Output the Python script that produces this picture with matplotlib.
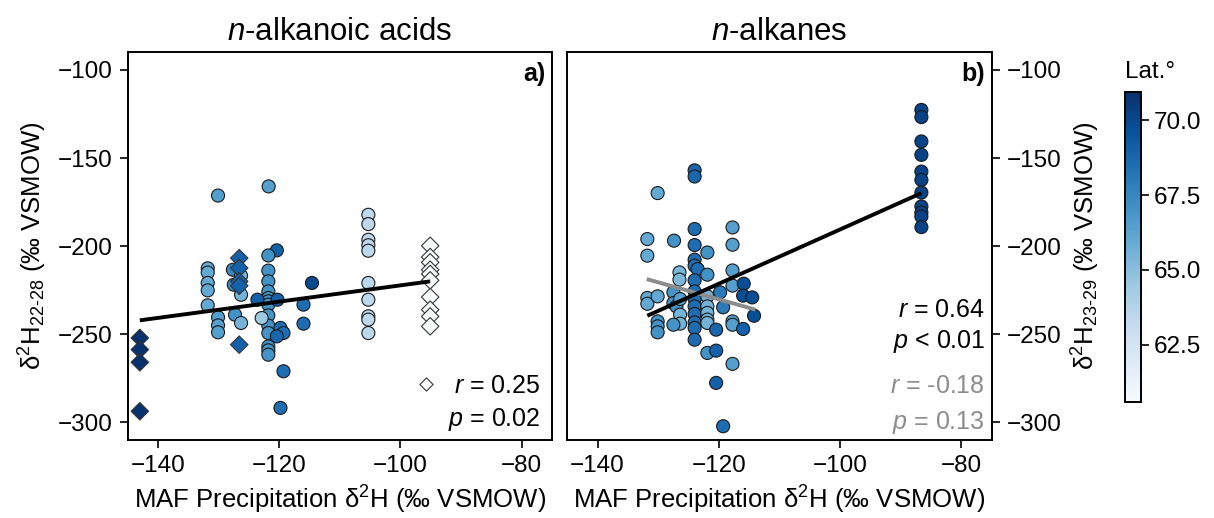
import numpy as np
import matplotlib
matplotlib.use("Agg")
import matplotlib.pyplot as plt
from matplotlib.colors import Normalize

plt.rcParams['font.family'] = ['Liberation Sans', 'DejaVu Sans']
plt.rcParams['mathtext.fontset'] = 'custom'
plt.rcParams['mathtext.rm'] = 'Liberation Sans'
plt.rcParams['mathtext.it'] = 'Liberation Sans:italic'
plt.rcParams['mathtext.bf'] = 'Liberation Sans:bold'

# ---------------- data ----------------
# Panel a (n-alkanoic acids): circles
a_circ_x = [-130.1, -121.75, -120.4, -121.8,
            -131.8, -131.8, -131.8, -131.8, -131.8,
            -130.1, -130.1, -130.1,
            -127.65, -126.3, -127.5, -126.3, -127.3, -126.3,
            -121.8, -121.8, -121.8, -121.8, -121.8, -121.8, -121.8, -121.8, -121.8, -121.8, -121.8, -121.8,
            -122.9, -123.6, -120.3, -119.8, -119.3, -120.4, -119.3, -119.8,
            -116.0, -116.0, -114.6,
            -105.3, -105.3, -105.3, -105.3, -105.3, -105.3, -105.3, -105.3, -105.3, -105.3]
a_circ_y = [-171.3, -166.1, -202.4, -205.3,
            -212.6, -215.0, -220.9, -225.1, -233.6,
            -240.4, -245.0, -248.9,
            -213.4, -216.8, -221.9, -227.6, -238.9, -243.6,
            -213.9, -220.0, -225.7, -229.4, -231.3, -233.2, -239.3, -245.1, -249.3, -256.9, -259.1, -261.6,
            -240.8, -230.4, -230.4, -246.4, -249.3, -251.2, -271.0, -291.8,
            -233.2, -244.0, -220.9,
            -182.2, -187.5, -196.4, -199.5, -202.6, -220.9, -230.4, -239.8, -241.7, -249.3]
a_circ_lat = [66.5, 66.5, 69.0, 67.0,
              66.0, 66.0, 66.0, 66.0, 66.0,
              66.5, 66.5, 66.5,
              67.5, 65.5, 67.5, 65.5, 67.0, 65.5,
              67.0, 67.0, 67.0, 67.0, 67.0, 67.0, 67.0, 67.0, 67.0, 67.0, 67.0, 67.0,
              64.5, 69.0, 69.0, 68.5, 68.5, 68.8, 68.5, 68.5,
              68.5, 68.5, 70.0,
              63.5, 63.5, 63.5, 63.5, 63.5, 63.5, 63.5, 63.5, 63.5, 63.5]

# Panel a: diamonds
a_dia_x = [-143.0, -143.0, -143.0, -143.0,
           -126.6, -126.6, -126.6, -126.6, -126.6,
           -95.1, -95.1, -95.1, -95.1, -95.1, -95.1, -95.1, -95.1, -95.1, -95.1]
a_dia_y = [-252.1, -258.7, -265.9, -293.7,
           -206.8, -212.4, -220.0, -222.5, -255.9,
           -199.8, -206.2, -209.2, -213.4, -215.8, -219.4, -228.9, -236.1, -239.9, -245.5]
a_dia_lat = [70.9, 70.9, 70.9, 70.9,
             69.0, 69.0, 69.0, 69.0, 69.0,
             60.6, 60.6, 60.6, 60.6, 60.6, 60.6, 60.6, 60.6, 60.6, 60.6]

# Panel a: regression line end points
a_fit_x = [-143.0, -95.1]
a_fit_y = [-242.1, -220.0]

# Panel b (n-alkanes): circles
b_x = [-130.1, -124.0, -124.0,
       -131.8, -131.8, -127.4, -124.0, -124.0, -121.9, -117.75, -117.75,
       -124.0, -124.0, -123.5, -126.5, -126.5, -121.9, -124.0,
       -117.75, -117.75, -115.9, -116.0, -114.5, -114.2,
       -119.8, -119.3,
       -131.8, -131.8, -130.1, -130.1, -130.1, -130.1,
       -127.5, -127.5, -127.0, -126.4, -126.4, -126.4, -127.5,
       -124.0, -124.0, -124.0, -124.0, -124.0, -124.0, -124.0,
       -121.9, -121.9, -121.9, -121.9, -121.9,
       -120.45, -117.75, -117.75, -116.0,
       -121.9, -120.45, -117.75, -120.45, -119.3,
       -86.6, -86.6, -86.6, -86.6, -86.6, -86.6, -86.6, -86.6, -86.6, -86.6, -86.6]
b_y = [-169.9, -157.0, -160.5,
       -196.0, -205.4, -196.9, -190.3, -199.4, -203.6, -189.4, -199.2,
       -207.7, -211.1, -213.0, -214.9, -219.0, -216.2, -219.4,
       -213.8, -222.4, -221.3, -228.1, -229.1, -239.5,
       -226.2, -234.7,
       -229.4, -232.7, -228.5, -242.7, -245.5, -248.9,
       -226.2, -232.3, -234.2, -230.0, -238.9, -244.0, -244.6,
       -225.7, -230.0, -234.2, -238.5, -243.3, -246.4, -253.1,
       -228.5, -234.2, -237.9, -241.7, -243.6,
       -247.4, -242.7, -244.6, -247.0,
       -260.6, -259.3, -266.8, -277.6, -302.2,
       -122.7, -126.8, -140.6, -148.2, -157.7, -162.4, -169.6, -177.5, -180.9, -183.2, -189.2]
b_lat = [66.0, 68.8, 68.8,
         66.0, 66.0, 67.0, 68.5, 68.5, 67.0, 66.5, 66.5,
         68.5, 68.5, 68.5, 65.3, 65.3, 67.0, 68.5,
         66.5, 66.5, 69.8, 69.8, 69.8, 69.8,
         68.0, 68.0,
         66.0, 66.0, 66.0, 67.0, 67.0, 67.0,
         67.0, 67.0, 67.0, 66.5, 65.5, 65.5, 67.0,
         68.5, 68.5, 68.5, 68.5, 68.5, 68.5, 68.5,
         65.5, 65.5, 65.5, 65.5, 65.5,
         68.8, 66.5, 66.5, 69.0,
         67.0, 69.0, 66.5, 69.0, 68.5,
         70.2, 70.2, 70.2, 70.2, 70.2, 70.2, 70.2, 70.2, 70.2, 70.2, 70.2]

# Panel b: regression lines (all sites, and without the -86.6 site)
b_fit_x = [-131.8, -86.6]
b_fit_y = [-239.5, -169.9]
b_fit2_x = [-131.9, -114.0]
b_fit2_y = [-218.7, -236.0]

lat_min, lat_max = 60.6, 70.95
cbar_ticks = [62.5, 65.0, 67.5, 70.0]
x_ticks = [-140, -120, -100, -80]
y_ticks = [-100, -150, -200, -250, -300]

# ---------------- figure ----------------
fig = plt.figure(figsize=(12.14, 5.18), dpi=100)
axA = fig.add_axes([0.1052, 0.1506, 0.3495, 0.7485])
axB = fig.add_axes([0.4673, 0.1506, 0.3496, 0.7485])
cax = fig.add_axes([0.9267, 0.2245, 0.0129, 0.5985])

cmap = plt.get_cmap('Blues')
norm = Normalize(vmin=lat_min, vmax=lat_max)

FS_TICK = 17.5
FS_LAB = 18.5
FS_TITLE = 22.5
FS_ANN = 18

msize = 88
ec = '#1a1a1a'
lw_e = 0.8

axA.scatter(a_circ_x, a_circ_y, c=a_circ_lat, cmap=cmap, norm=norm, s=msize,
            marker='o', edgecolors=ec, linewidths=lw_e, zorder=2)
axA.scatter(a_dia_x, a_dia_y, c=a_dia_lat, cmap=cmap, norm=norm, s=msize * 0.9,
            marker='D', edgecolors='#333333', linewidths=lw_e, zorder=2)
axA.plot(a_fit_x, a_fit_y, color='black', lw=2.8, zorder=3, solid_capstyle='butt')

sc = axB.scatter(b_x, b_y, c=b_lat, cmap=cmap, norm=norm, s=msize,
                 marker='o', edgecolors=ec, linewidths=lw_e, zorder=2)
axB.plot(b_fit2_x, b_fit2_y, color='#8c8c8c', lw=2.8, zorder=3, solid_capstyle='butt')
axB.plot(b_fit_x, b_fit_y, color='black', lw=2.8, zorder=3, solid_capstyle='butt')

for ax in (axA, axB):
    ax.set_xlim(-145, -75)
    ax.set_ylim(-310, -90)
    ax.set_xticks(x_ticks)
    ax.set_yticks(y_ticks)
    ax.tick_params(labelsize=FS_TICK, length=6, width=1.2, pad=5)
    for s in ax.spines.values():
        s.set_linewidth(1.4)
    ax.set_xlabel(r'MAF Precipitation δ$^2$H (‰ VSMOW)', fontsize=FS_LAB, labelpad=5)

axA.set_ylabel(r'δ$^2$H$_{\mathrm{22\text{-}28}}$ (‰ VSMOW)', fontsize=FS_LAB, labelpad=6)
axB.yaxis.tick_right()
axB.yaxis.set_label_position('right')
axB.set_ylabel(r'δ$^2$H$_{\mathrm{23\text{-}29}}$ (‰ VSMOW)', fontsize=FS_LAB, labelpad=6)

axA.set_title(r'$\mathit{n}$-alkanoic acids', fontsize=FS_TITLE, pad=9)
axB.set_title(r'$\mathit{n}$-alkanes', fontsize=FS_TITLE, pad=9)

axA.text(0.985, 0.975, 'a)', transform=axA.transAxes, ha='right', va='top',
         fontsize=FS_ANN, fontweight='bold')
axB.text(0.985, 0.975, 'b)', transform=axB.transAxes, ha='right', va='top',
         fontsize=FS_ANN, fontweight='bold')

axA.text(0.972, 0.139, r'$\mathit{r}$ = 0.25', transform=axA.transAxes,
         ha='right', va='center', fontsize=FS_ANN)
axA.text(0.972, 0.052, r'$\mathit{p}$ = 0.02', transform=axA.transAxes,
         ha='right', va='center', fontsize=FS_ANN)
axA.scatter([0.704], [0.144], transform=axA.transAxes, marker='D', s=45,
            facecolor='white', edgecolors='#333333', linewidths=0.8, zorder=4)

axB.text(0.984, 0.335, r'$\mathit{r}$ = 0.64', transform=axB.transAxes,
         ha='right', va='center', fontsize=FS_ANN)
axB.text(0.984, 0.255, r'$\mathit{p}$ < 0.01', transform=axB.transAxes,
         ha='right', va='center', fontsize=FS_ANN)
axB.text(0.984, 0.139, r'$\mathit{r}$ = -0.18', transform=axB.transAxes,
         ha='right', va='center', fontsize=FS_ANN, color='#8c8c8c')
axB.text(0.984, 0.046, r'$\mathit{p}$ = 0.13', transform=axB.transAxes,
         ha='right', va='center', fontsize=FS_ANN, color='#8c8c8c')

cb = fig.colorbar(sc, cax=cax)
cb.set_ticks(cbar_ticks)
cb.ax.tick_params(labelsize=FS_TICK, length=6, width=1.2)
cb.outline.set_linewidth(1.4)
cax.set_title('Lat.°', fontsize=FS_TICK, loc='left', pad=10)

fig.savefig('out.png', dpi=100)
